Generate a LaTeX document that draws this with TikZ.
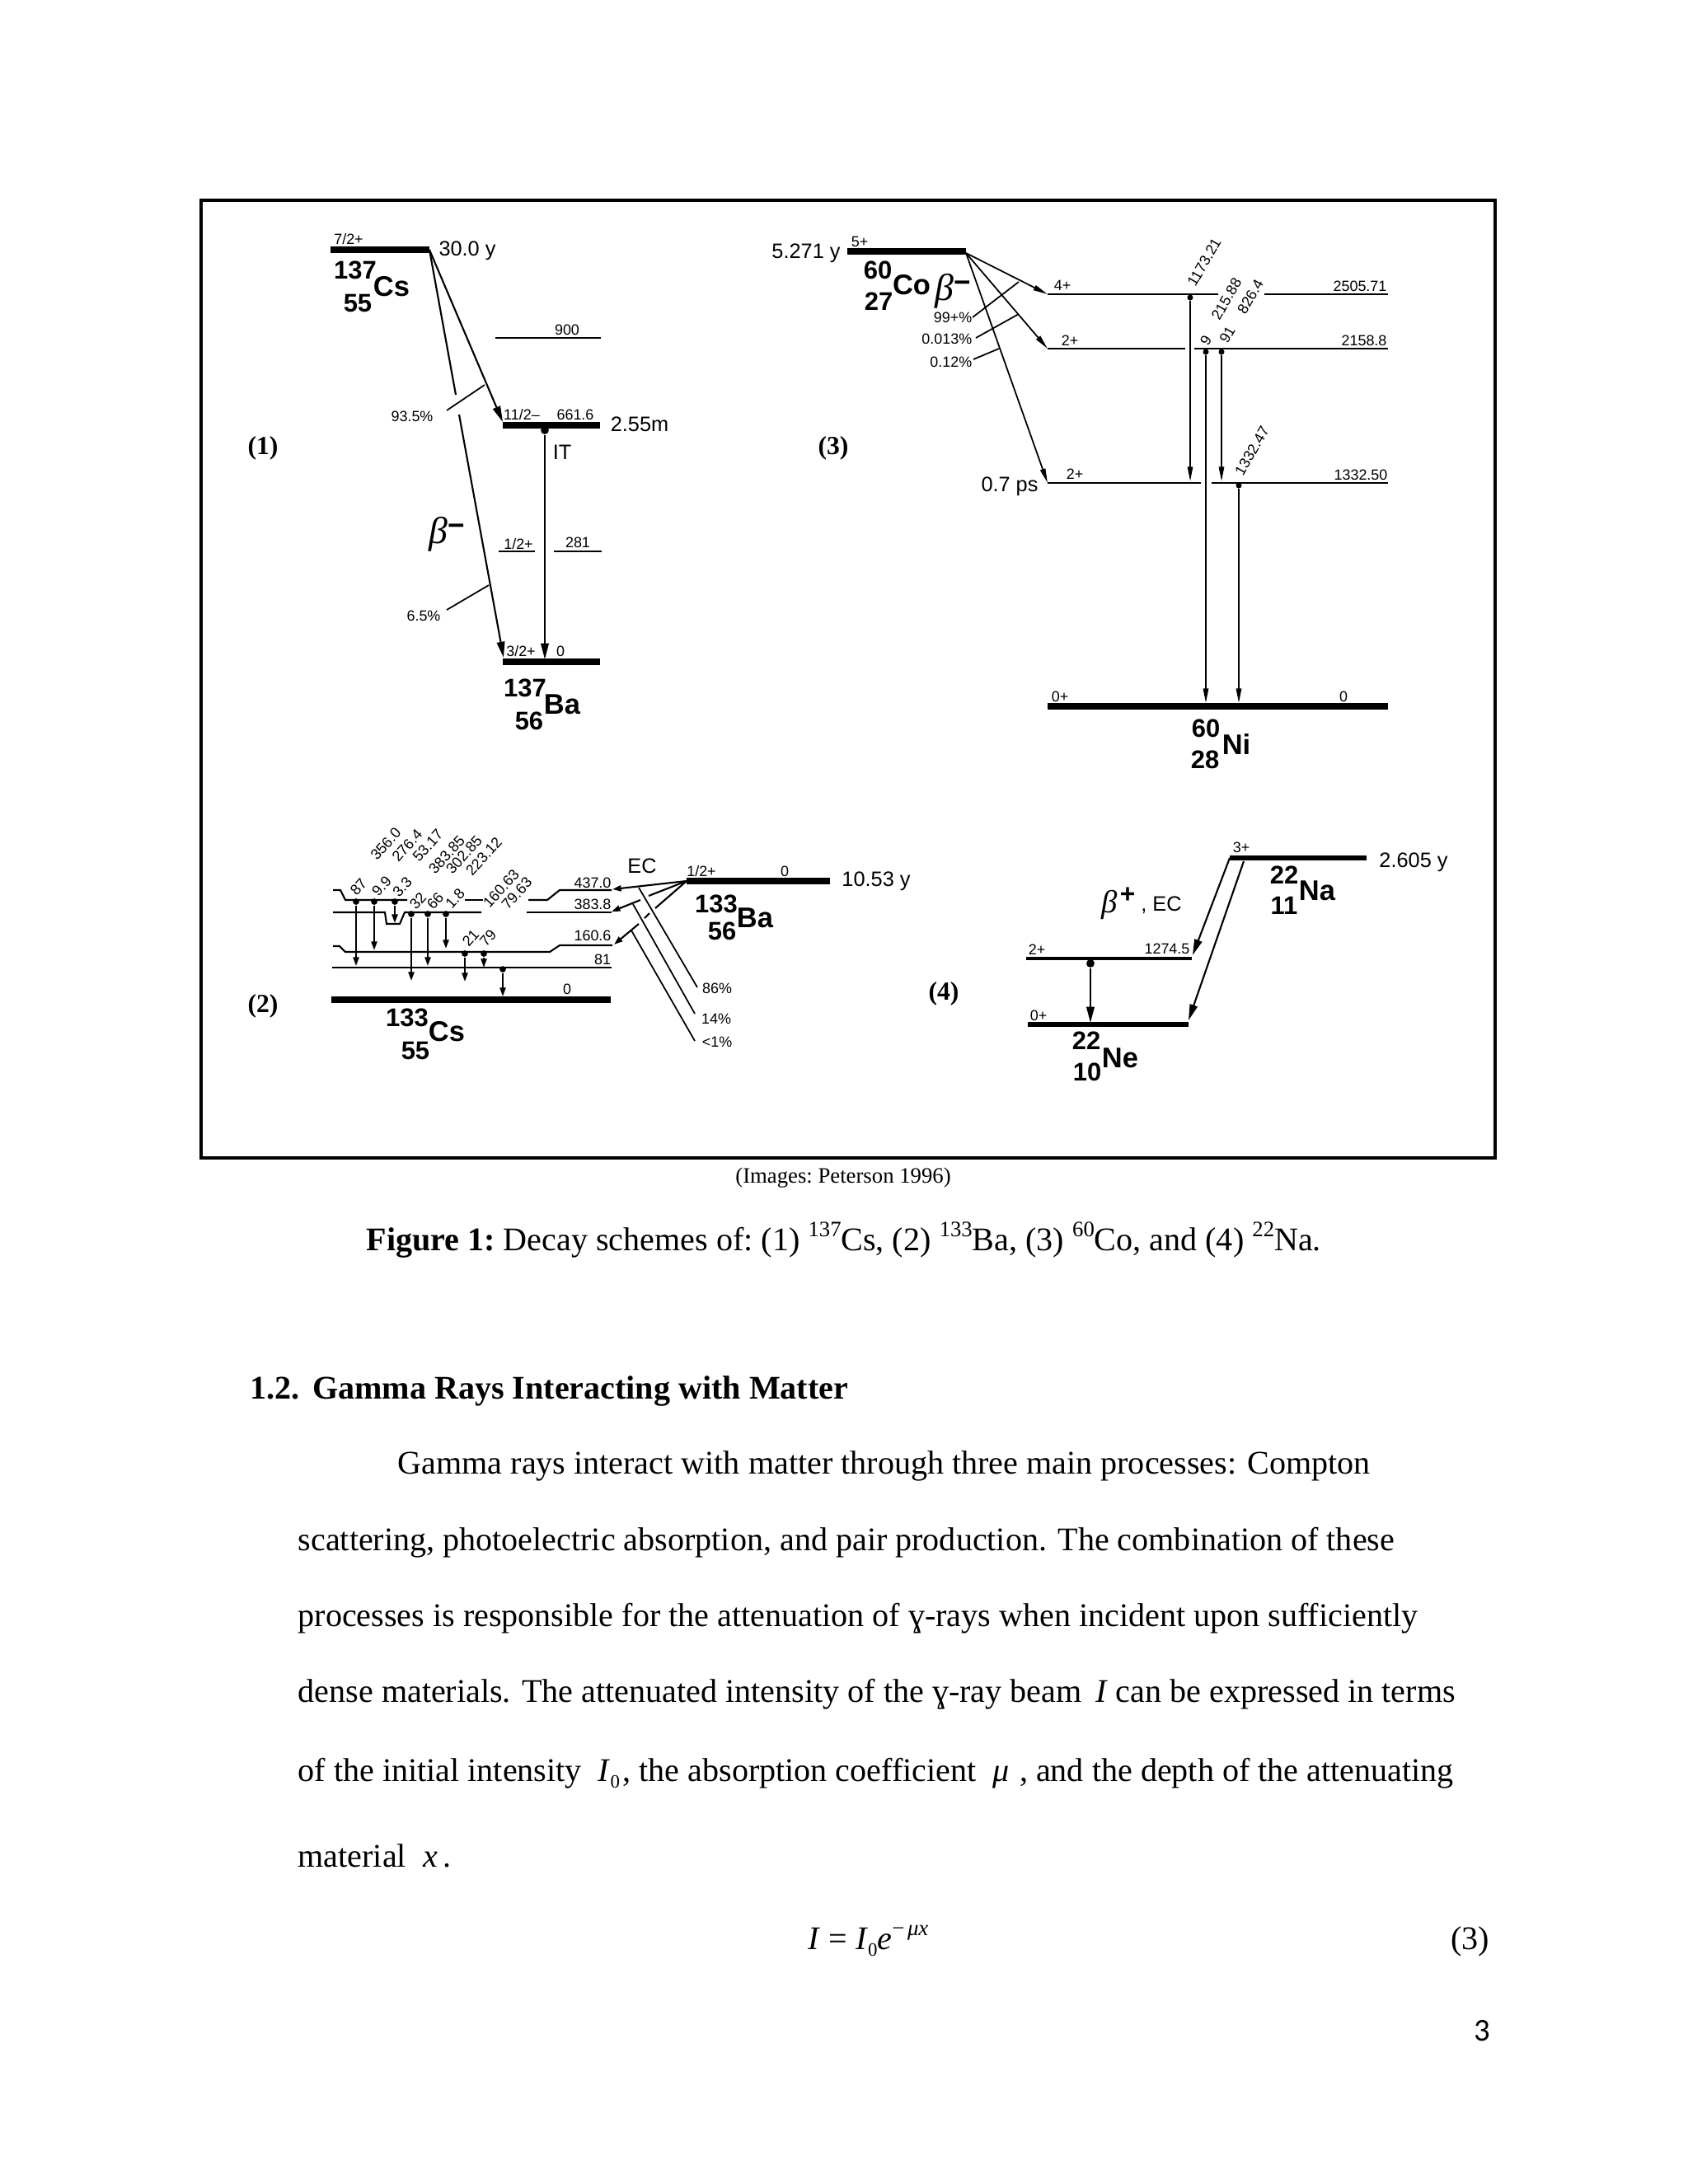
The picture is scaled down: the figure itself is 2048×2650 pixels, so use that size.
\documentclass[tikz,border=0pt]{standalone}
\usepackage{fontspec}
\usetikzlibrary{arrows.meta}
\setmainfont{Liberation Serif}
\setsansfont{Liberation Sans}
\newfontfamily\pagefont{Carlito}
\newcommand{\isotop}[1]{\raisebox{.42em}{\fontsize{7.6}{8}\selectfont #1}}
\newcommand{\isosub}[1]{\raisebox{-.22em}{\fontsize{6.5}{7}\selectfont #1}}
\newcommand{\betam}[1]{\fontsize{#1}{#1}\selectfont\textit{β}\raisebox{.45ex}{\sffamily\bfseries\fontsize{10}{10}\selectfont−}}
\tikzset{
  lab/.style={inner sep=0pt,font=\sffamily\fontsize{5.1}{6}\selectfont},
  labbig/.style={inner sep=0pt,font=\sffamily\fontsize{7.2}{8}\selectfont},
  num/.style={inner sep=0pt,font=\sffamily\bfseries\fontsize{8.8}{9}\selectfont},
  sym/.style={inner sep=0pt,font=\sffamily\bfseries\fontsize{9.8}{10}\selectfont},
  part/.style={inner sep=0pt,font=\rmfamily\bfseries\fontsize{9}{10}\selectfont},
  body/.style={inner sep=0pt,anchor=base west,font=\rmfamily\fontsize{11.4}{12}\selectfont},
  lvl/.style={line width=.6pt},
  lvlthick/.style={line width=2.1pt},
  lead/.style={line width=.5pt},
  arr/.style={line width=.6pt,-{Triangle[length=5.5pt,width=2.7pt]}},
  arrsmall/.style={line width=.6pt,-{Triangle[length=3pt,width=2pt]}},
  arrlong/.style={line width=.5pt,-{Triangle[length=5pt,width=1.8pt]}},
  dot/.style={fill=black,inner sep=0pt,minimum size=2.2pt,circle}
}
\begin{document}
\begin{tikzpicture}[x=.01cm,y=-.01cm]
  \useasboundingbox (0,0) rectangle (2048,2650);
  \draw[line width=.9pt] (244,243) rectangle (1814,1405);

  \node[part] (partA) at (319,544) {(1)};
  \draw[lvlthick] (401,303) coordinate (csA) -- (521,303) coordinate (csB);
  \node[lab] (csSpin) at (423,290) {7/2+};
  \node[labbig] (csLife) at (567,304) {30.0 y};
  \node[num] (csMass) at (431,328) {137};
  \node[sym] (csName) at (475,348) {Cs};
  \node[num] (csZ) at (434,368) {55};
  \draw[lvl] (601,410) -- (729,410);
  \node[lab] (lA) at (688,400) {900};
  \draw[lvlthick] (610,516) coordinate (isoA) -- (728,516) coordinate (isoB);
  \node[lab] (lB) at (633,503) {11/2--};
  \node[lab] (lC) at (698,503) {661.6};
  \node[labbig] (isoLife) at (776,515) {2.55m};
  \node[labbig] (lIT) at (682,549) {IT};
  \draw[lvl] (605,669) -- (649,669);
  \draw[lvl] (672,669) -- (730,669);
  \node[lab] (lD) at (629,660) {1/2+};
  \node[lab] (lE) at (701,658) {281};
  \draw[lvlthick] (610,803) coordinate (baA) -- (728,803) coordinate (baB);
  \node[lab] (lF) at (632,790) {3/2+};
  \node[lab] (lG) at (680,790) {0};
  \node[num] (baMass) at (637,835) {137};
  \node[sym] (baName) at (682,855) {Ba};
  \node[num] (baZ) at (642,875) {56};
  \node[dot,minimum size=2.8pt] (isoDot) at (661,522) {};
  \coordinate (isoEnd) at (661,800);
  \draw[arr] (isoDot) -- (isoEnd);
  \coordinate (tipA) at (610,512);
  \draw[arr] (csB) -- (tipA);
  \coordinate (gapA) at (553,479);
  \coordinate (gapB) at (557,503);
  \coordinate (tipB) at (611,798);
  \draw[line width=.6pt] (csB) -- (gapA);
  \draw[arr] (gapB) -- (tipB);
  \coordinate (leadA) at (542,498);
  \coordinate (leadB) at (588,467);
  \draw[lead] (leadA) -- (leadB);
  \coordinate (leadC) at (542,740);
  \coordinate (leadD) at (593,710);
  \draw[lead] (leadC) -- (leadD);
  \node[lab] (pA) at (500,505) {93.5\%};
  \node[lab] (pB) at (514,747) {6.5\%};
  \node[inner sep=0pt] (betaA) at (542,648) {\betam{13}};

  \node[part] (partC) at (1011,544) {(3)};
  \draw[lvlthick] (1028,305) coordinate (coA) -- (1172,305) coordinate (coB);
  \node[labbig] (coLife) at (978,307) {5.271 y};
  \node[lab] (lH) at (1043,293) {5+};
  \node[num] (coMass) at (1065,328) {60};
  \node[sym] (coName) at (1106,346) {Co};
  \node[num] (coZ) at (1066,366) {27};
  \node[inner sep=0pt] (betaC) at (1156,353) {\betam{13}};
  \draw[lvl] (1271,357) coordinate (niA) -- (1478,357);
  \draw[lvl] (1534,357) -- (1684,357);
  \node[lab] (lI) at (1289,346) {4+};
  \node[lab] (lJ) at (1650,347) {2505.71};
  \draw[lvl] (1271,423) coordinate (niB) -- (1438,423);
  \draw[lvl] (1449,423) -- (1684,423);
  \node[lab] (lK) at (1298,413) {2+};
  \node[lab] (lL) at (1655,413) {2158.8};
  \draw[lvl] (1271,586) coordinate (niC) -- (1457,586);
  \draw[lvl] (1470,586) -- (1684,586);
  \node[lab] (lM) at (1304,575) {2+};
  \node[lab] (lN) at (1651,576) {1332.50};
  \node[labbig] (niLife) at (1225,590) {0.7 ps};
  \draw[lvlthick] (1271,857) coordinate (niD) -- (1684,857) coordinate (niE);
  \node[lab] (lO) at (1286,845) {0+};
  \node[lab] (lP) at (1630,845) {0};
  \node[num] (niMass) at (1463,884) {60};
  \node[sym] (niName) at (1500,903) {Ni};
  \node[num] (niZ) at (1462,922) {28};
  \coordinate (coC) at (1172,307);
  \draw[arrlong] (coC) -- (niA);
  \draw[arrlong] (coC) -- (niB);
  \draw[arrlong] (coC) -- (niC);
  \coordinate (leadE) at (1180,385);
  \coordinate (leadF) at (1236,342);
  \draw[lead] (leadE) -- (leadF);
  \coordinate (leadG) at (1184,410);
  \coordinate (leadH) at (1236,381);
  \draw[lead] (leadG) -- (leadH);
  \coordinate (leadI) at (1181,436);
  \coordinate (leadJ) at (1212,423);
  \draw[lead] (leadI) -- (leadJ);
  \node[lab,anchor=east] (pC) at (1180,385) {99+\%};
  \node[lab,anchor=east] (pD) at (1180,411) {0.013\%};
  \node[lab,anchor=east] (pE) at (1180,439) {0.12\%};
  \node[dot,minimum size=2pt] (dotA) at (1444,361) {};
  \coordinate (endA) at (1444,584);
  \draw[arrlong] (dotA) -- (endA);
  \node[dot,minimum size=2pt] (dotB) at (1463,427) {};
  \coordinate (endB) at (1463,853);
  \draw[arrlong] (dotB) -- (endB);
  \node[dot,minimum size=2pt] (dotC) at (1482,427) {};
  \coordinate (endC) at (1482,584);
  \draw[arrlong] (dotC) -- (endC);
  \node[dot,minimum size=2pt] (dotD) at (1503,589) {};
  \coordinate (endD) at (1503,853);
  \draw[arrlong] (dotD) -- (endD);
  \node[lab,rotate=60] (gA) at (1461,318) {1173.21};
  \node[lab,rotate=60] (gB) at (1488,363) {215.88};
  \node[lab,rotate=60] (gC) at (1517,360) {826.4};
  \node[lab,rotate=60] (gD) at (1463,413) {9};
  \node[lab,rotate=60] (gE) at (1489,406) {91};
  \node[lab,rotate=60] (gF) at (1519,547) {1332.47};

  \node[part] (partB) at (319,1221) {(2)};
  \draw[lvl] (404,1080) coordinate (lvA) -- (413,1080) -- (419,1092) -- (494,1092);
  \draw[lvl] (564,1092) -- (586,1092);
  \draw[lvl] (641,1092) -- (664,1092) -- (679,1080) -- (742,1080) coordinate (lvB);
  \draw[lvl] (404,1107) -- (467,1107) -- (469,1121) -- (485,1121) -- (491,1107) -- (584,1107);
  \draw[lvl] (639,1107) -- (742,1107) coordinate (lvC);
  \draw[lvl] (404,1148) -- (412,1148) -- (419,1155) -- (667,1155) -- (679,1147) -- (743,1147) coordinate (lvD);
  \draw[lvl] (403,1174) -- (742,1174);
  \draw[lvlthick] (402,1213) -- (741,1213);
  \node[lab] (lQ) at (719,1071) {437.0};
  \node[lab] (lR) at (719,1097) {383.8};
  \node[lab] (lS) at (719,1135) {160.6};
  \node[lab] (lT) at (731,1164) {81};
  \node[lab] (lU) at (688,1200) {0};
  \node[dot] (cA) at (432,1094) {};
  \node[dot] (cB) at (454,1094) {};
  \node[dot] (cC) at (479,1094) {};
  \node[dot] (cD) at (499,1109) {};
  \node[dot] (cE) at (519,1109) {};
  \node[dot] (cF) at (541,1109) {};
  \node[dot] (cG) at (564,1157) {};
  \node[dot] (cH) at (587,1157) {};
  \node[dot] (cI) at (610,1176) {};
  \coordinate (fA) at (432,1172);
  \coordinate (fB) at (454,1153);
  \coordinate (fC) at (479,1120);
  \coordinate (fD) at (499,1190);
  \coordinate (fE) at (519,1172);
  \coordinate (fF) at (541,1151);
  \coordinate (fG) at (564,1191);
  \coordinate (fH) at (587,1174);
  \coordinate (fI) at (610,1209);
  \draw[arrsmall] (cA) -- (fA);
  \draw[arrsmall] (cB) -- (fB);
  \draw[arrsmall] (cC) -- (fC);
  \draw[arrsmall] (cD) -- (fD);
  \draw[arrsmall] (cE) -- (fE);
  \draw[arrsmall] (cF) -- (fF);
  \draw[arrsmall] (cG) -- (fG);
  \draw[arrsmall] (cH) -- (fH);
  \draw[arrsmall] (cI) -- (fI);
  \node[lab,rotate=48] (rA) at (435,1076) {87};
  \node[lab,rotate=48] (rB) at (463,1075) {9.9};
  \node[lab,rotate=48] (rC) at (488,1076) {3.3};
  \node[lab,rotate=48] (rD) at (507,1093) {32};
  \node[lab,rotate=48] (rE) at (528,1093) {66};
  \node[lab,rotate=48] (rF) at (552,1090) {1.8};
  \node[lab,rotate=48] (rG) at (571,1138) {21};
  \node[lab,rotate=48] (rH) at (592,1138) {79};
  \node[lab,rotate=48] (rI) at (468,1024) {356.0};
  \node[lab,rotate=48] (rJ) at (494,1026) {276.4};
  \node[lab,rotate=48] (rK) at (519,1026) {53.17};
  \node[lab,rotate=48] (rL) at (542,1037) {383.85};
  \node[lab,rotate=48] (rM) at (563,1037) {302.85};
  \node[lab,rotate=48] (rN) at (587,1039) {223.12};
  \node[lab,rotate=48] (rO) at (608,1078) {160.63};
  \node[lab,rotate=48] (rP) at (627,1084) {79.63};
  \node[num] (cs3Mass) at (494,1235) {133};
  \node[sym] (cs3Name) at (542,1252) {Cs};
  \node[num] (cs3Z) at (504,1275) {55};
  \node[labbig] (lEC) at (779,1051) {EC};
  \draw[lvlthick] (833,1069) coordinate (bbA) -- (1007,1069);
  \node[lab] (lV) at (851,1057) {1/2+};
  \node[lab] (lW) at (952,1057) {0};
  \node[labbig] (bbLife) at (1063,1069) {10.53 y};
  \node[num] (bbMass) at (869,1097) {133};
  \node[sym] (bbName) at (916,1114) {Ba};
  \node[num] (bbZ) at (876,1130) {56};
  \coordinate (tipC) at (743,1079);
  \draw[arrsmall] (bbA) -- (tipC);
  \coordinate (gapC) at (787,1087);
  \coordinate (gapD) at (777,1092);
  \coordinate (tipD) at (742,1106);
  \draw[lvl] (bbA) -- (gapC);
  \draw[arrsmall] (gapD) -- (tipD);
  \coordinate (gapE) at (795,1102);
  \coordinate (gapF) at (788,1108);
  \coordinate (gapG) at (782,1114);
  \coordinate (gapH) at (775,1121);
  \coordinate (tipE) at (745,1146);
  \draw[lvl] (bbA) -- (gapE);
  \draw[lvl] (gapF) -- (gapG);
  \draw[arrsmall] (gapH) -- (tipE);
  \coordinate (leadK) at (775,1077);
  \coordinate (leadL) at (846,1198);
  \draw[lead] (leadK) -- (leadL);
  \coordinate (leadM) at (768,1097);
  \coordinate (leadN) at (843,1230);
  \draw[lead] (leadM) -- (leadN);
  \coordinate (leadO) at (766,1129);
  \coordinate (leadP) at (843,1263);
  \draw[lead] (leadO) -- (leadP);
  \node[lab] (pF) at (870,1199) {86\%};
  \node[lab] (pG) at (869,1236) {14\%};
  \node[lab] (pH) at (870,1264) {<1\%};

  \node[part] (partD) at (1145,1206) {(4)};
  \draw[lvlthick,line width=1.8pt] (1492,1041) coordinate (naA) -- (1658,1041);
  \node[lab] (lX) at (1506,1028) {3+};
  \node[labbig] (naLife) at (1715,1046) {2.605 y};
  \node[num] (naMass) at (1558,1062) {22};
  \node[sym] (naName) at (1598,1081) {Na};
  \node[num] (naZ) at (1558,1099) {11};
  \node[inner sep=0pt] (betaD) at (1346,1098) {\fontsize{11}{11}\selectfont\textit{β}};
  \node[inner sep=0pt,font=\sffamily\bfseries\fontsize{9}{9}\selectfont] (betaE) at (1368,1086) {+};
  \node[labbig] (betaF) at (1409,1098) {, EC};
  \draw[lvl,line width=1.4pt] (1245,1163) -- (1446,1163);
  \node[lab] (lY) at (1258,1152) {2+};
  \node[lab] (lZ) at (1416,1151) {1274.5};
  \draw[lvlthick,line width=1.8pt] (1247,1243) -- (1442,1243);
  \node[lab] (lAA) at (1260,1232) {0+};
  \node[num] (neMass) at (1318,1263) {22};
  \node[sym] (neName) at (1359,1284) {Ne};
  \node[num] (neZ) at (1319,1301) {10};
  \node[dot,minimum size=2.8pt] (neDot) at (1323,1169) {};
  \coordinate (neEnd) at (1323,1241);
  \draw[arr] (neDot) -- (neEnd);
  \coordinate (tipF) at (1447,1159);
  \draw[arr] (naA) -- (tipF);
  \coordinate (naB) at (1509,1045);
  \coordinate (tipG) at (1442,1238);
  \draw[arr] (naB) -- (tipG);

  \node[body,anchor=base,font=\rmfamily\fontsize{7.6}{9}\selectfont] (credit) at (1023,1435) {\frenchspacing (Images: Peterson 1996)};
  \node[body] (caption) at (444,1517) {\frenchspacing\textbf{Figure 1:} Decay schemes of: (1) \isotop{137}Cs, (2) \isotop{133}Ba, (3) \isotop{60}Co, and (4) \isotop{22}Na.};
  \node[body] (head) at (303,1697) {\textbf{1.2.\hspace{.38em}Gamma Rays Interacting with Matter}};
  \node[body] (txtA) at (482,1788) {Gamma rays interact with matter through three main processes: Compton};
  \node[body] (txtB) at (361,1881) {scattering, photoelectric absorption, and pair production. The combination of these};
  \node[body] (txtC) at (361,1973) {processes is responsible for the attenuation of ɣ-rays when incident upon sufficiently};
  \node[body] (txtD) at (361,2065) {dense materials. The attenuated intensity of the ɣ-ray beam\ \hspace{1.9pt}\textit{I}\ can be expressed in terms};
  \node[body] (txtE) at (361,2161) {of the initial intensity\ \ \textit{I}\isosub{0}\hspace{1pt}, the absorption coefficient\ \ \textit{μ}\hspace{3.5pt}, and the depth of the attenuating};
  \node[body] (txtF) at (361,2265) {material\ \ \textit{x}\,.};
  \node[body] (eqn) at (980,2365) {\textit{I} = \textit{I}\isosub{0}\textit{e}\isotop{−\hspace{1pt}\textit{μx}}};
  \node[body,anchor=base east] (eqnNo) at (1808,2365) {(3)};
  \node[inner sep=0pt,font=\pagefont\fontsize{11}{12}\selectfont] (pageNo) at (1798,2464) {3};
\end{tikzpicture}
\end{document}
